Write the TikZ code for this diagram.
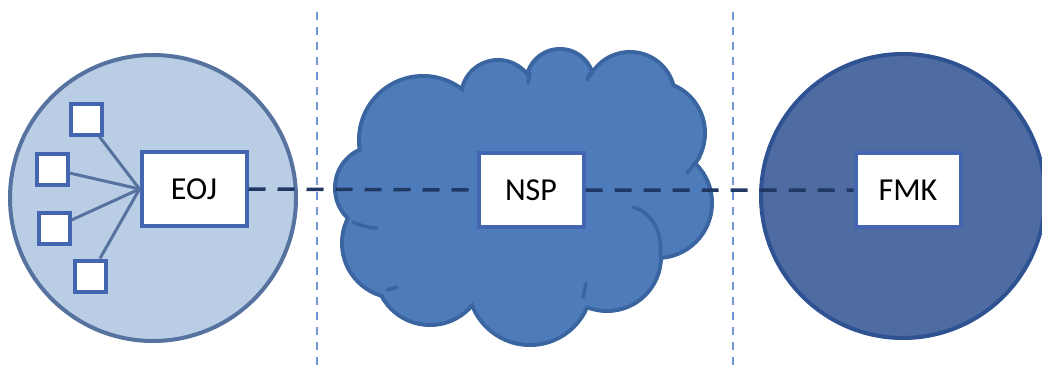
\documentclass[tikz,border=0pt]{standalone}
\usepackage{fontspec}
\setmainfont{Carlito}
\usepackage{xcolor}
\usepackage{tikz}
\usetikzlibrary{positioning}

\definecolor{homefill}{HTML}{B9CDE5}
\definecolor{homeline}{HTML}{56739F}
\definecolor{cloudfill}{HTML}{4E7CBA}
\definecolor{cloudline}{HTML}{3A65A0}
\definecolor{fmkfill}{HTML}{4E6CA2}
\definecolor{fmkline}{HTML}{2F5292}
\definecolor{boxline}{HTML}{4466B0}
\definecolor{connline}{HTML}{1F3864}
\definecolor{sepline}{HTML}{6F97D3}

\tikzset{
	labelbox/.style={draw=boxline,line width=4pt,fill=white,minimum width=105pt,minimum height=74pt,inner sep=0pt,font=\fontsize{32}{38}\selectfont},
	devbox/.style={draw=boxline,line width=4pt,fill=white,minimum size=31pt,inner sep=0pt},
	devline/.style={draw=homeline,line width=3pt},
	conn/.style={draw=connline,line width=3.5pt,dash pattern=on 17pt off 12pt},
	sep/.style={draw=sepline,line width=2pt,dash pattern=on 8pt off 7pt}
}

\begin{document}
\begin{tikzpicture}[x=1pt,y=-1pt]
		\useasboundingbox (0,0) rectangle (1042,369);
		% separators
		\draw [sep] (317,12) coordinate(sep a top) -- (317,369) coordinate(sep a bottom);
		\draw [sep] (733,12) coordinate(sep b top) -- (733,369) coordinate(sep b bottom);
		% home network
		\draw [homeline,fill=homefill,line width=4pt] (153,198) circle (143);
		% cloud
		\foreach \cx/\cy/\r in {377/188/40,423/140/62,498/97/35,560/83/32,630/97/43,653/133/50,657/203/53,607/257/52,530/283/60,430/270/53,397/243/53}
			\draw [cloudline,line width=8pt] (\cx,\cy) circle (\r);
		\foreach \cx/\cy/\r in {377/188/40,423/140/62,498/97/35,560/83/32,630/97/43,653/133/50,657/203/53,607/257/52,530/283/60,430/270/53,397/243/53}
			\fill [cloudfill] (\cx,\cy) circle (\r);
		\fill [cloudfill] (377,188) -- (423,140) -- (498,97) -- (560,83) -- (630,97) -- (653,133) -- (657,203) -- (607,257) -- (530,283) -- (430,270) -- (397,243) -- cycle;
		\draw [cloudline,line width=3.5pt,line cap=round] (633,207) .. controls (655,214) and (663,236) .. (660,257);
		\draw [cloudline,line width=3.5pt,line cap=round] (700,157) .. controls (695,163) and (691,168) .. (687,173);
		\draw [cloudline,line width=3.5pt,line cap=round] (353,222) .. controls (362,226) and (370,228) .. (377,228);
		\draw [cloudline,line width=3.5pt,line cap=round] (387,290) -- (397,287);
		\draw [cloudline,line width=3.5pt,line cap=round] (583,298) -- (586,283);
		\draw [cloudline,line width=3.5pt,line cap=round] (530,73) -- (528,83);
		\draw [cloudline,line width=3.5pt,line cap=round] (590,73) -- (587,80);
		% service provider
		\draw [fmkline,fill=fmkfill,line width=4pt] (903,196) circle (142);
		\node [labelbox] (eoj) at (194,189) {EOJ};
		\node [labelbox] (nsp) at (531,190) {NSP};
		\node [labelbox] (fmk) at (908,190) {FMK};
		\node [devbox] (dev1) at (86,119) {};
		\node [devbox] (dev2) at (52,169) {};
		\node [devbox] (dev3) at (54,228) {};
		\node [devbox] (dev4) at (90,276) {};
		\foreach \d in {dev1,dev2,dev3,dev4}
			\draw [devline] (\d) -- (eoj.west);
		\draw [conn] (eoj.east) -- (nsp.west) (nsp.east) -- (fmk.west);
	\end{tikzpicture}
\end{document}
